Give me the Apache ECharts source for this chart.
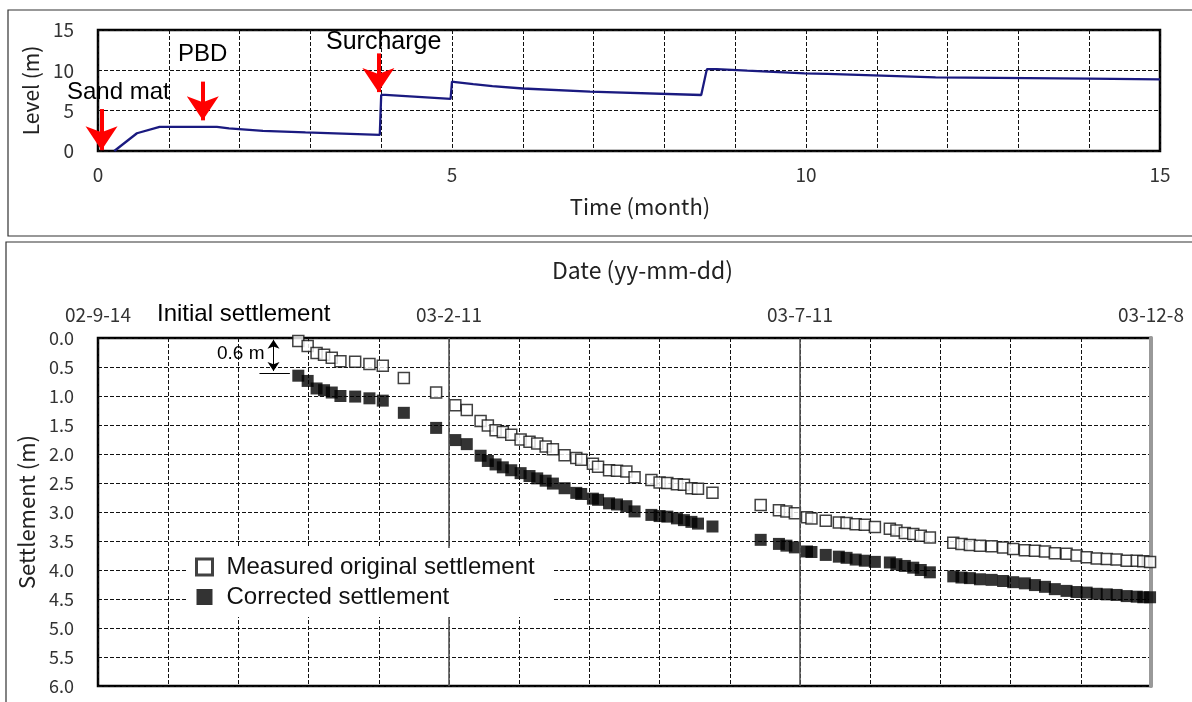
<!DOCTYPE html>
<html>
<head>
<meta charset="utf-8">
<script src="https://cdn.jsdelivr.net/npm/echarts@6/dist/echarts.min.js"></script>
<style>
html,body{margin:0;padding:0;background:#fff;}
#c{width:1192px;height:702px;}
</style>
</head>
<body>
<div id="c"></div>
<script>
// ---- Top chart: fill level vs time ----
const levelMonths = [0.23, 0.55, 0.87, 1.68, 1.85, 2.33, 2.93, 3.98, 4.0, 4.06, 4.98, 5.0, 5.05, 5.3, 5.57, 6.0, 6.95, 8.52, 8.6, 8.74, 9.17, 9.98, 10.3, 11.83, 14.0, 15.0];
const levelValues = [0.0, 2.2, 3.0, 3.0, 2.8, 2.5, 2.3, 2.0, 6.95, 6.95, 6.45, 8.6, 8.55, 8.3, 8.05, 7.75, 7.35, 6.94, 10.15, 10.15, 9.96, 9.63, 9.55, 9.13, 8.97, 8.88];
const timeTicks = [0, 5, 10, 15];

// ---- Bottom chart: settlement vs days from 02-9-14 ----
const settleDays = [85.6, 89.6, 93.4, 96.6, 99.9, 103.6, 109.9, 116.0, 121.7, 130.7, 144.5, 152.7, 157.6,
  163.5, 166.6, 169.9, 173.0, 176.6, 180.6, 184.4, 187.7, 191.3, 194.4, 199.4, 204.4, 206.5, 211.5, 213.7,
  218.4, 221.8, 225.8, 229.3, 236.5, 240.0, 243.3, 247.4, 250.4, 253.6, 256.4, 262.6,
  283.2, 291.0, 294.2, 297.8, 303.0, 304.9, 311.0, 316.6, 319.9, 323.8, 327.7, 332.0, 338.4, 341.2, 344.8, 348.4, 351.6, 355.5,
  365.5, 369.0, 372.6, 376.9, 381.9, 386.8, 391.1, 396.1, 400.4, 404.7, 408.9, 413.9, 418.2, 422.5, 426.8, 431.1, 435.3, 439.6, 443.9, 446.7, 449.6];
const measured = [0.05, 0.14, 0.26, 0.29, 0.34, 0.40, 0.41, 0.45, 0.48, 0.69, 0.94, 1.16, 1.24,
  1.43, 1.51, 1.59, 1.62, 1.67, 1.75, 1.79, 1.82, 1.87, 1.92, 2.02, 2.07, 2.10, 2.17, 2.22,
  2.28, 2.29, 2.30, 2.40, 2.45, 2.49, 2.50, 2.52, 2.53, 2.59, 2.60, 2.67,
  2.88, 2.97, 2.99, 3.02, 3.09, 3.11, 3.15, 3.18, 3.19, 3.21, 3.22, 3.26, 3.29, 3.32, 3.36, 3.38, 3.41, 3.44,
  3.53, 3.55, 3.57, 3.58, 3.59, 3.61, 3.64, 3.66, 3.67, 3.68, 3.71, 3.72, 3.75, 3.78, 3.80, 3.81, 3.82, 3.84, 3.84, 3.85, 3.86];
const corrected = [0.65, 0.74, 0.87, 0.90, 0.94, 1.00, 1.01, 1.04, 1.08, 1.29, 1.55, 1.76, 1.83,
  2.03, 2.12, 2.18, 2.23, 2.28, 2.33, 2.38, 2.42, 2.46, 2.51, 2.59, 2.67, 2.69, 2.77, 2.79,
  2.85, 2.87, 2.90, 2.99, 3.05, 3.07, 3.08, 3.11, 3.14, 3.17, 3.20, 3.25,
  3.48, 3.55, 3.58, 3.61, 3.68, 3.69, 3.74, 3.77, 3.79, 3.82, 3.84, 3.86, 3.87, 3.90, 3.93, 3.96, 4.00, 4.04,
  4.11, 4.13, 4.14, 4.16, 4.17, 4.19, 4.21, 4.23, 4.26, 4.29, 4.33, 4.36, 4.38, 4.39, 4.41, 4.42, 4.43, 4.45, 4.46, 4.47, 4.47];
const dateTickDays = [0, 150, 300, 450];
const dateTickLabels = ['02-9-14', '03-2-11', '03-7-11', '03-12-8'];

const tickFont = 'Noto Sans CJK KR';
const annFont = 'Liberation Sans';

const chart = echarts.init(document.getElementById('c'), null, {renderer: 'canvas'});
const dashed = {show: true, lineStyle: {color: '#111', type: [4, 2], width: 1}};

const option = {
  animation: false,
  backgroundColor: '#fff',
  grid: [
    {left: 98, top: 30, right: 32, height: 121, show: true, borderColor: '#000', borderWidth: 2.5, backgroundColor: 'transparent'},
    {left: 98, top: 338, right: 41, height: 348, show: true, borderColor: '#000', borderWidth: 2.5, backgroundColor: 'transparent'}
  ],
  xAxis: [
    {gridIndex: 0, type: 'value', min: 0, max: 15, interval: 1, position: 'bottom',
     axisLine: {show: false}, axisTick: {show: false}, splitLine: dashed,
     axisLabel: {margin: 14, fontSize: 19, color: '#333', fontFamily: tickFont,
       formatter: v => timeTicks.includes(v) ? String(v) : ''},
     name: 'Time (month)', nameLocation: 'middle', nameGap: 45,
     nameTextStyle: {fontSize: 22, color: '#222', fontFamily: tickFont, padding: [0, 0, 0, 22]}},
    {gridIndex: 1, type: 'value', min: 0, max: 450, interval: 30, position: 'top',
     axisLine: {show: false}, axisTick: {show: false}, splitLine: dashed,
     axisLabel: {margin: 14, fontSize: 19, color: '#333', fontFamily: tickFont,
       formatter: v => { const i = dateTickDays.indexOf(v); return i >= 0 ? dateTickLabels[i] : ''; }},
     name: 'Date (yy-mm-dd)', nameLocation: 'middle', nameGap: 56,
     nameTextStyle: {fontSize: 23, color: '#222', fontFamily: tickFont, padding: [0, 0, 0, 36]}}
  ],
  yAxis: [
    {gridIndex: 0, type: 'value', min: 0, max: 15, interval: 5,
     axisLine: {show: false}, axisTick: {show: false}, splitLine: dashed,
     axisLabel: {margin: 24, fontSize: 19, color: '#333', fontFamily: tickFont},
     name: 'Level (m)', nameLocation: 'middle', nameGap: 54, nameRotate: 90,
     nameTextStyle: {fontSize: 21, color: '#222', fontFamily: tickFont}},
    {gridIndex: 1, type: 'value', min: 0, max: 6, interval: 0.5, inverse: true,
     axisLine: {show: false}, axisTick: {show: false}, splitLine: dashed,
     axisLabel: {margin: 24, fontSize: 18, color: '#333', fontFamily: tickFont, formatter: v => v.toFixed(1)},
     name: 'Settlement (m)', nameLocation: 'middle', nameGap: 52, nameRotate: 90,
     nameTextStyle: {fontSize: 22, color: '#222', fontFamily: tickFont}},
    {gridIndex: 1, type: 'value', min: 0, max: 6, inverse: true, position: 'right',
     axisLine: {show: true, lineStyle: {color: '#999', width: 4}}, axisTick: {show: false},
     axisLabel: {show: false}, splitLine: {show: false}}
  ],
  legend: {
    orient: 'vertical', left: 187, top: 548, padding: [7, 18, 8, 8], itemGap: 6, z: 20,
    backgroundColor: '#fff', itemWidth: 16, itemHeight: 16,
    textStyle: {fontSize: 24, color: '#111', fontFamily: annFont, padding: [0, 0, 0, 9]},
    data: [
      {name: 'Measured original settlement', icon: 'rect', itemStyle: {color: '#fff', borderColor: '#111', borderWidth: 3}},
      {name: 'Corrected settlement', icon: 'rect', itemStyle: {color: '#000'}}
    ]
  },
  series: [
    {
      type: 'line', xAxisIndex: 0, yAxisIndex: 0, showSymbol: false, z: 3,
      data: levelMonths.map((m, i) => [m, levelValues[i]]),
      lineStyle: {color: '#1a1a80', width: 2.3},
      markLine: {
        silent: true, symbol: ['none', 'arrow'], symbolSize: 24,
        lineStyle: {color: '#ff0000', width: 4, type: 'solid'},
        label: {show: false},
        data: [
          [{coord: [0.05, 5.2]}, {coord: [0.05, 0.1]}],
          [{coord: [1.48, 8.6]}, {coord: [1.48, 3.8]}],
          [{coord: [3.96, 12.1]}, {coord: [3.96, 7.3]}]
        ]
      }
    },
    {
      name: 'Measured original settlement', type: 'scatter', xAxisIndex: 1, yAxisIndex: 1,
      symbol: 'rect', symbolSize: 11, z: 4,
      itemStyle: {color: '#fff', borderColor: '#111', borderWidth: 1.5},
      data: settleDays.map((d, i) => [d, measured[i]]),
      markLine: {
        silent: true, symbol: 'none', label: {show: false},
        lineStyle: {color: '#555', width: 1.6, type: 'solid'},
        data: [{xAxis: dateTickDays[1]}, {xAxis: dateTickDays[2]}]
      }
    },
    {
      name: 'Corrected settlement', type: 'scatter', xAxisIndex: 1, yAxisIndex: 1,
      symbol: 'rect', symbolSize: 12, z: 4,
      itemStyle: {color: '#000'},
      data: settleDays.map((d, i) => [d, corrected[i]]),
      markLine: {
        silent: true, label: {show: false},
        lineStyle: {color: '#000', width: 1, type: 'solid'},
        data: [
          [{coord: [75, 0.03], symbol: 'arrow', symbolSize: 9}, {coord: [75, 0.57], symbol: 'arrow', symbolSize: 9}],
          [{coord: [69, 0.6], symbol: 'none'}, {coord: [82, 0.6], symbol: 'none'}]
        ]
      }
    }
  ],
  graphic: [
    {type: 'rect', shape: {x: 8, y: 10, width: 1200, height: 226}, style: {fill: 'none', stroke: '#333', lineWidth: 1.2}, silent: true},
    {type: 'rect', shape: {x: 6, y: 242, width: 1200, height: 480}, style: {fill: 'none', stroke: '#333', lineWidth: 1.2}, silent: true},
    {type: 'text', left: 67, top: 80, style: {text: 'Sand mat', fontSize: 24, fill: '#000', fontFamily: annFont}, z: 10},
    {type: 'text', left: 178, top: 42, style: {text: 'PBD', fontSize: 24, fill: '#000', fontFamily: annFont}, z: 10},
    {type: 'text', left: 326, top: 30, style: {text: 'Surcharge', fontSize: 25, fill: '#000', fontFamily: annFont}, z: 10},
    {type: 'text', left: 157, top: 302, style: {text: 'Initial settlement', fontSize: 24, fill: '#000', fontFamily: annFont}, z: 10},
    {type: 'text', left: 217, top: 344, style: {text: '0.6 m', fontSize: 19, fill: '#000', fontFamily: annFont}, z: 10}
  ]
};
chart.setOption(option);
</script>
</body>
</html>
